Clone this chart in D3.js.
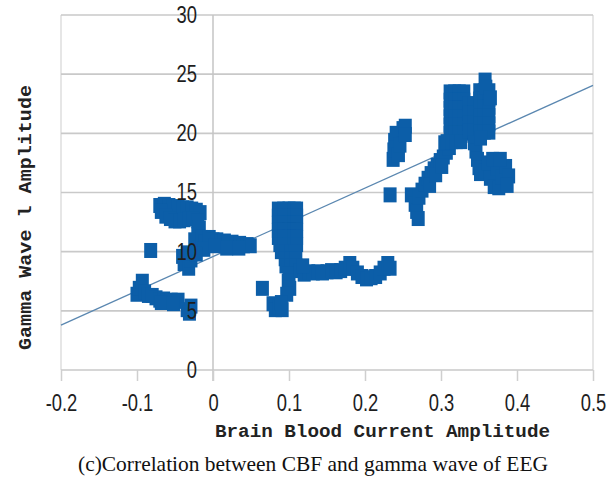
<!DOCTYPE html>
<html>
<head>
<meta charset="utf-8">
<script src="https://cdn.jsdelivr.net/npm/d3@7"></script>
<style>
  body { margin: 0; background: #fff; }
  svg { display: block; }
</style>
</head>
<body>
<div id="chart"></div>
<script>
// x = brain blood current amplitude, y = gamma wave amplitude
const cbfValues = [
  // low left group
  -0.100, -0.097, -0.093, -0.090, -0.085, -0.080, -0.075, -0.070, -0.065, -0.060, -0.055, -0.050, -0.046, -0.068, -0.052,
  -0.082, -0.034, -0.031, -0.029,
  -0.040, -0.038, -0.032, -0.029, -0.034,
  // upper left block
  -0.070, -0.064, -0.058, -0.052, -0.046, -0.040, -0.034, -0.028, -0.022, -0.017,
  -0.068, -0.062, -0.056, -0.050, -0.044, -0.038, -0.032, -0.026, -0.020, -0.018, -0.020,
  // band around 0
  -0.024, -0.020, -0.015, -0.010, -0.005, 0.000, 0.005, 0.010, 0.015, 0.020, 0.025, 0.030, 0.035, 0.040, 0.045, 0.049,
  -0.012, 0.002, 0.018, 0.034, -0.022,
  // column at 0.1
  0.086, 0.093, 0.100, 0.107, 0.110,
  0.086, 0.093, 0.100, 0.107, 0.110,
  0.086, 0.093, 0.100, 0.107, 0.110,
  0.086, 0.093, 0.100, 0.107, 0.110,
  0.086, 0.093, 0.100, 0.107, 0.110,
  0.088, 0.094, 0.100, 0.107, 0.110,
  0.090, 0.096, 0.102, 0.108,
  0.095, 0.102, 0.109,
  0.096, 0.102, 0.109,
  0.100, 0.099, 0.101, 0.097,
  0.079, 0.082, 0.087, 0.091, 0.090,
  0.065,
  // band 0.12 - 0.23
  0.115, 0.120, 0.126, 0.132, 0.138, 0.144, 0.150, 0.156, 0.162, 0.168, 0.174, 0.180,
  0.184, 0.190, 0.196, 0.202, 0.208, 0.214, 0.220, 0.225, 0.230, 0.233, 0.118,
  // around 0.24
  0.237, 0.238, 0.239, 0.241, 0.244, 0.246, 0.250, 0.253, 0.253,
  0.233,
  0.261, 0.266, 0.268, 0.270, 0.271,
  // rising chain
  0.275, 0.279, 0.283, 0.287, 0.291, 0.295, 0.299, 0.303, 0.307, 0.311, 0.285, 0.293, 0.301, 0.305,
  // top block
  0.312, 0.318, 0.324, 0.330,
  0.312, 0.318, 0.324, 0.330,
  0.312, 0.318, 0.324, 0.330,
  0.312, 0.318, 0.324, 0.330,
  0.312, 0.318, 0.324, 0.330,
  0.312, 0.318, 0.324, 0.330,
  0.308, 0.314, 0.320, 0.326,
  0.337, 0.344, 0.337, 0.344, 0.337, 0.344, 0.337, 0.344,
  0.351, 0.357, 0.363, 0.351, 0.357, 0.363, 0.351, 0.357, 0.363,
  0.351, 0.357, 0.363, 0.351, 0.357, 0.363, 0.351, 0.357, 0.363,
  0.358, 0.359, 0.365,
  // falling part and right blob
  0.344, 0.346, 0.348, 0.350, 0.352, 0.352,
  0.358, 0.362, 0.365, 0.370, 0.376, 0.374, 0.380, 0.385, 0.389, 0.387, 0.368, 0.378
];

const gammaValues = [
  6.4, 6.9, 7.5, 6.6, 6.3, 6.3, 6.1, 5.9, 6.0, 5.8, 5.9, 5.8, 5.9, 5.7, 5.6,
  10.1, 5.1, 4.8, 5.4,
  9.6, 9.0, 8.6, 9.3, 9.9,
  13.9, 14.0, 13.9, 13.8, 13.8, 13.7, 13.7, 13.6, 13.5, 13.3,
  13.4, 13.0, 12.8, 12.6, 12.6, 12.7, 12.8, 12.8, 12.6, 12.0, 11.5,
  11.0, 10.3, 11.2, 10.8, 11.2, 11.0, 11.0, 10.8, 10.9, 10.7, 10.8, 10.6, 10.7, 10.5, 10.6, 10.5,
  10.2, 10.5, 10.3, 10.3, 9.8,
  13.6, 13.6, 13.6, 13.6, 13.6,
  13.0, 13.0, 13.0, 13.0, 13.0,
  12.4, 12.4, 12.4, 12.4, 12.4,
  11.8, 11.8, 11.8, 11.8, 11.8,
  11.2, 11.2, 11.2, 11.2, 11.2,
  10.6, 10.6, 10.6, 10.6, 10.6,
  10.0, 10.0, 10.0, 10.0,
  9.4, 9.4, 9.4,
  8.8, 8.8, 8.8,
  8.1, 7.5, 6.9, 6.4,
  5.6, 5.1, 5.3, 5.1, 5.7,
  6.9,
  8.4, 8.1, 8.3, 8.2, 8.3, 8.2, 8.3, 8.4, 8.3, 8.4, 8.6, 9.0,
  8.6, 8.2, 7.9, 7.7, 7.8, 7.9, 8.2, 8.6, 9.0, 8.6, 8.8,
  17.8, 18.6, 19.4, 20.0, 18.2, 19.0, 20.4, 20.6, 19.9,
  14.8,
  14.8, 14.0, 13.4, 12.8, 14.6,
  15.2, 15.7, 16.2, 16.6, 17.0, 17.3, 17.7, 18.0, 18.4, 18.8, 15.6, 16.5, 17.2, 19.2,
  23.5, 23.5, 23.5, 23.5,
  22.8, 22.8, 22.8, 22.8,
  22.1, 22.1, 22.1, 22.1,
  21.4, 21.4, 21.4, 21.4,
  20.7, 20.7, 20.7, 20.7,
  20.0, 20.0, 20.0, 20.0,
  19.3, 19.3, 19.3, 19.3,
  22.5, 22.5, 21.7, 21.7, 20.9, 20.9, 20.2, 20.2,
  23.6, 23.6, 23.6, 22.9, 22.9, 22.9, 22.2, 22.2, 22.2,
  21.5, 21.5, 21.5, 20.8, 20.8, 20.8, 20.1, 20.1, 20.1,
  24.5, 23.9, 23.0,
  19.2, 18.5, 17.8, 17.1, 16.6, 19.6,
  16.8, 17.5, 16.2, 15.5, 15.4, 17.1, 16.3, 17.2, 16.4, 15.6, 17.8, 17.8
];

// linear trend line end points
const trendX = [-0.2, 0.5];
const trendY = [3.8, 24.05];

const xTicks = [-0.2, -0.1, 0, 0.1, 0.2, 0.3, 0.4, 0.5];
const yTicks = [0, 5, 10, 15, 20, 25, 30];

const xTitle = "Brain Blood Current Amplitude";
const yTitle = "Gamma Wave l Amplitude";
const caption = "(c)Correlation between CBF and gamma wave of EEG";

const width = 613, height = 479;
const plot = { left: 61, right: 593, top: 15, bottom: 370 };
const narrow = 0.8; // tick labels are a condensed face in the original

const svg = d3.select("#chart").append("svg")
  .attr("width", width)
  .attr("height", height);

const x = d3.scaleLinear().domain([-0.2, 0.5]).range([plot.left, plot.right]);
const y = d3.scaleLinear().domain([0, 30]).range([plot.bottom, plot.top]);

// border sides
svg.append("g").selectAll("line")
  .data([plot.left, plot.right])
  .join("line")
  .attr("x1", d => d).attr("x2", d => d)
  .attr("y1", plot.top).attr("y2", plot.bottom)
  .attr("stroke", "#dedede")
  .attr("stroke-width", 1.5);

// horizontal grid
svg.append("g").selectAll("line")
  .data(yTicks)
  .join("line")
  .attr("x1", plot.left).attr("x2", plot.right)
  .attr("y1", d => y(d)).attr("y2", d => y(d))
  .attr("stroke", "#c9c9c9")
  .attr("stroke-width", 1.6);

// vertical axis line at x = 0
svg.append("line")
  .attr("x1", x(0)).attr("x2", x(0))
  .attr("y1", plot.top).attr("y2", plot.bottom + 11)
  .attr("stroke", "#c4c4c4")
  .attr("stroke-width", 1.5);

// trend line (under the markers)
svg.append("line")
  .attr("x1", x(trendX[0])).attr("y1", y(trendY[0]))
  .attr("x2", x(trendX[1])).attr("y2", y(trendY[1]))
  .attr("stroke", "#5a87b0")
  .attr("stroke-width", 1.3);

// markers
const points = cbfValues.map((v, i) => ({ x: v, y: gammaValues[i] }));
const mw = 13, mh = 15;
svg.append("g").selectAll("rect")
  .data(points)
  .join("rect")
  .attr("x", d => x(d.x) - mw / 2)
  .attr("y", d => y(d.y) - mh / 2)
  .attr("width", mw)
  .attr("height", mh)
  .attr("fill", "#0c5ea8");

// x axis ticks and labels
const xAxis = svg.append("g")
  .attr("transform", `translate(0,${plot.bottom})`)
  .call(d3.axisBottom(x).tickValues(xTicks).tickSize(11).tickPadding(14)
    .tickFormat(d => d === 0 ? "0" : d3.format(".1f")(d).replace("−", "-")));
xAxis.select(".domain").remove();
xAxis.selectAll(".tick line").attr("stroke", "#cfcfcf").attr("stroke-width", 1.5);
xAxis.selectAll("text")
  .attr("transform", `scale(${narrow},1)`)
  .attr("fill", "#1e1e1e")
  .style("font-family", "'Liberation Sans', Arial, sans-serif")
  .style("font-size", "23px");

// y axis labels, on the x = 0 line
const yAxis = svg.append("g")
  .attr("transform", `translate(${x(0)},0)`)
  .call(d3.axisLeft(y).tickValues(yTicks).tickSize(0).tickPadding(16));
yAxis.select(".domain").remove();
yAxis.selectAll("text")
  .attr("x", -16 / narrow)
  .attr("transform", `scale(${narrow},1)`)
  .attr("fill", "#1e1e1e")
  .style("font-family", "'Liberation Sans', Arial, sans-serif")
  .style("font-size", "23px");

// axis titles
svg.append("text")
  .attr("x", 215).attr("y", 437)
  .attr("textLength", 335)
  .attr("lengthAdjust", "spacingAndGlyphs")
  .attr("fill", "#222")
  .style("font-family", "'Liberation Mono', 'DejaVu Sans Mono', monospace")
  .style("font-weight", "bold")
  .style("font-size", "19px")
  .text(xTitle);

svg.append("text")
  .attr("transform", "translate(31,350) rotate(-90)")
  .attr("textLength", 265)
  .attr("lengthAdjust", "spacingAndGlyphs")
  .attr("fill", "#222")
  .style("font-family", "'Liberation Mono', 'DejaVu Sans Mono', monospace")
  .style("font-weight", "bold")
  .style("font-size", "19px")
  .text(yTitle);

// caption under the chart
svg.append("text")
  .attr("x", 78).attr("y", 471)
  .attr("textLength", 470)
  .attr("lengthAdjust", "spacingAndGlyphs")
  .attr("fill", "#111")
  .style("font-family", "'Liberation Serif', 'Times New Roman', serif")
  .style("font-size", "21px")
  .text(caption);
</script>
</body>
</html>
